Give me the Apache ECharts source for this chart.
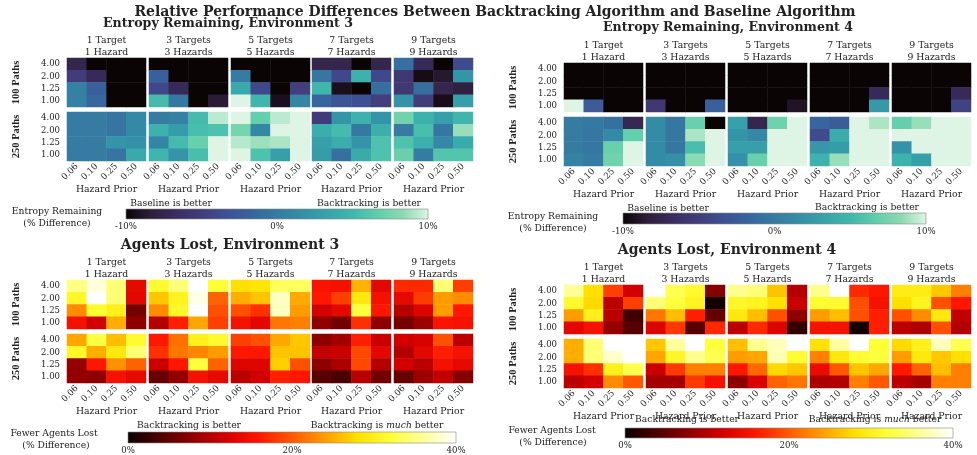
<!DOCTYPE html>
<html>
<head>
<meta charset="utf-8">
<script src="https://cdn.jsdelivr.net/npm/echarts@6/dist/echarts.min.js"></script>
<style>
  html, body { margin: 0; padding: 0; background: #fff; }
  #chart { width: 977px; height: 455px; }
</style>
</head>
<body>
<div id="chart"></div>
<script>
var hazardPriors = ['0.06', '0.10', '0.25', '0.50'];
var pathScales = ['1.00', '1.25', '2.00', '4.00'];
var groupNames = ['1 Target\n1 Hazard', '3 Targets\n3 Hazards', '5 Targets\n5 Hazards', '7 Targets\n7 Hazards', '9 Targets\n9 Hazards'];
var pathRows = ['100 Paths', '250 Paths'];

// each block: rows 4.00, 2.00, 1.25, 1.00 (top to bottom), cols 0.06 .. 0.50
var entropyEnv3Paths100 = [
    [[-7.5, -10, -10, -10], [-5, -7, -10, -10], [0.5, -2, -10, -10], [0.5, -1.5, -10, -10]],
    [[-10, -10, -10, -10], [-2, -10, -10, -10], [-4, -7, -10, -10], [5.3, -0.2, -10, -8.5]],
    [[-10, -10, -10, -10], [0, -10, -10, -10], [3.8, -4, -10, -4.8], [10, 4.8, -9.3, 0.8]],
    [[-7.5, -7.5, -10, -7.5], [-0.3, -4, 4.5, -4], [5, -9.3, -10, -1], [-1.7, -3, -3.3, -4.8]],
    [[-0.8, -7, -10, -3.8], [-5.5, -9.5, -8.7, 2.2], [-5.5, -1, -7.5, -8], [2, -5, -9.4, 3]]
];
var entropyEnv3Paths250 = [
    [[0, 0, -0.5, 1.2], [0, 0, -0.5, 1.2], [0, 0, 2.2, 1.8], [0, 0, -0.5, 3.8]],
    [[0, 0.5, 5.3, 9.3], [4.5, 2.8, 5.5, 5.8], [0.8, 5.3, 7, 10], [4.8, 2.2, 5.5, 10]],
    [[10, 6.8, 9.3, 10], [7.5, 1, 10, 10], [9.2, 8.7, 9, 10], [10, 5.8, 3, 10]],
    [[-5.2, 2.2, 4.5, 2.2], [4.2, 5.3, -0.2, 4.3], [3, 4.2, 2, 5.8], [2.8, -0.8, 4, 5.8]],
    [[7.3, 4.5, 3, 4.8], [0, 5.5, -0.3, 8.6], [5.8, 4.3, 1, 4], [7, 0, 6, 6]]
];
var entropyEnv4Paths100 = [
    [[-10, -10, -10, -10], [-10, -10, -10, -10], [-10, -10, -10, -10], [10, -2.5, -10, -10]],
    [[-10, -10, -10, -10], [-10, -10, -10, -10], [-10, -10, -10, -10], [-5.5, -10, -10, -2]],
    [[-10, -10, -10, -10], [-10, -10, -10, -10], [-10, -10, -10, -10], [-10, -10, -10, -9]],
    [[-10, -10, -10, -10], [-10, -10, -10, -10], [-10, -10, -10, -7], [-10, -10, -10, 2.5]],
    [[-10, -10, -10, -10], [-10, -10, -10, -10], [-10, -10, -10, -7], [-10, -10, -10, -4.5]]
];
var entropyEnv4Paths250 = [
    [[0, -0.2, -0.8, -7.2], [0, -0.3, 1.2, 6.8], [0, -0.3, 7, 10], [0.7, 0, 7.3, 10]],
    [[1.3, -0.3, 7, -10], [1.3, -0.3, 9, 10], [1.3, -0.3, 5.5, 10], [1.3, 1.7, 8.3, 10]],
    [[3.2, -7.5, 7.2, 10], [2.2, 1.2, 10, 10], [3, 3, 10, 10], [1.8, 7, 10, 10]],
    [[-1.7, -2.5, 10, 9], [-3.8, 4.2, 10, 10], [2.3, 2.8, 10, 10], [4.6, 8.6, 10, 10]],
    [[6.8, 8.6, 10, 10], [10, 10, 10, 10], [2, 10, 10, 10], [4.6, 3, 10, 10]]
];
var agentsEnv3Paths100 = [
    [[35, 38.5, 34.5, 13.6], [31, 40, 34.5, 13.3], [23, 31.7, 30, 6.4], [15, 11.9, 25, 7.8]],
    [[31.4, 34.5, 40, 32], [26.5, 30.4, 39, 20.5], [23, 31, 40, 19.4], [10, 16.5, 24.6, 18.4]],
    [[28, 28.5, 33.6, 33.6], [25, 26.3, 37.5, 24.8], [19.4, 17.5, 37.5, 24], [15.2, 13.3, 21.7, 22.2]],
    [[15.5, 15, 25.3, 13.5], [16, 18.4, 29, 15], [11.9, 13.5, 32.3, 15.8], [8, 6.2, 17.5, 7.8]],
    [[17, 17, 34.5, 18.4], [13.6, 18.2, 24, 23], [10.3, 12.8, 24, 16], [6.4, 8.7, 15.5, 15.2]]
];
var agentsEnv3Paths250 = [
    [[24.6, 32.5, 26, 31.5], [31, 25, 29, 34.5], [8.2, 15.8, 23.2, 20.5], [8.2, 7.8, 15.2, 13.6]],
    [[16, 21.3, 30, 31.4], [17.5, 21.7, 22.7, 24], [11.4, 15.8, 32.3, 20.5], [5.5, 8.2, 15, 13.6]],
    [[18.4, 19.4, 24.6, 26.5], [16, 15.8, 26.3, 26.3], [12.8, 12.8, 27, 19.4], [10.5, 11.9, 16.5, 15.8]],
    [[7.8, 9.2, 16.5, 11.4], [11, 11.4, 19, 13.3], [7.8, 9.6, 19, 10], [4.6, 3.7, 10.3, 6.2]],
    [[11.9, 12.4, 19.4, 10.5], [10, 13.3, 16.5, 15.2], [11.9, 10.5, 15, 13.6], [5.5, 8.7, 11, 7.3]]
];
var agentsEnv4Paths100 = [
    [[35.9, 28, 18.4, 11.9], [31.4, 27.6, 10.5, 18.4], [24, 30, 10.5, 3.2], [13.3, 15.2, 8.2, 4.6]],
    [[40, 33, 31.4, 7.3], [34.5, 32.3, 30.5, 0.5], [21.7, 26, 16.5, 5.3], [12.8, 17.9, 4.6, 17]],
    [[35.5, 34.5, 26.3, 10], [31, 30.4, 28.2, 11.4], [29, 26, 19.4, 8], [10.5, 17, 12.8, 2.5]],
    [[35.5, 40, 17, 15.8], [31.7, 31.4, 19.4, 15.2], [24, 26, 19.4, 16.5], [15.2, 15.2, 0.5, 16.5]],
    [[29.5, 29.5, 26.5, 22.2], [28, 30.5, 19.4, 16], [19.4, 23, 29, 11], [10.5, 9.6, 19.4, 10]]
];
var agentsEnv4Paths250 = [
    [[25, 34.5, 40, 40], [25, 34.5, 37.8, 40], [15.2, 17.5, 30, 33], [10.5, 11.9, 23, 19.9]],
    [[26.5, 36, 40, 32.3], [24.6, 31, 35.5, 33], [11.4, 17.9, 22.2, 22.2], [9.2, 9.2, 17.9, 15]],
    [[26, 35.5, 37.3, 40], [24, 24.6, 37, 31.7], [15.8, 20.8, 27.6, 26.5], [7.8, 12.4, 20.5, 21.7]],
    [[28.2, 36.2, 40, 32], [22.2, 29, 31.7, 32.3], [14, 19.9, 26.3, 24.6], [9.6, 10, 22.2, 19.9]],
    [[27.6, 30, 37.3, 33], [24, 29, 26.5, 28], [16, 20.5, 26, 22.2], [10.5, 9.2, 22.2, 22.2]]
];

var makoColors = ['#0B0405', '#2E1E3B', '#3A2D5F', '#413D7B', '#3E5094', '#37659E', '#357BA2',
    '#348FA7', '#36A3AA', '#40B7AD', '#60CEAC', '#8BDAB2', '#DEF5E5'];
var hotColors = ['#0B0000', '#4E0000', '#910000', '#D40000', '#FF1700', '#FF5A00', '#FF9D00',
    '#FFE000', '#FFFF36', '#FFFF9B', '#FFFFFF'];

var FONT = '"DejaVu Serif", serif';               // wide serif for horizontal text
var FONT_NARROW = '"Liberation Serif", serif';    // condensed look for rotated row labels
var TXT = '#222';

var panels = [
    { kind: 'entropy', rows: [entropyEnv3Paths100, entropyEnv3Paths250], left: [67, 149, 231, 312, 394], top: [58, 112] },
    { kind: 'entropy', rows: [entropyEnv4Paths100, entropyEnv4Paths250], left: [564, 646, 728, 810, 892], top: [63, 117] },
    { kind: 'agents', rows: [agentsEnv3Paths100, agentsEnv3Paths250], left: [67, 149, 231, 312, 394], top: [280, 334] },
    { kind: 'agents', rows: [agentsEnv4Paths100, agentsEnv4Paths250], left: [564, 646, 728, 810, 892], top: [285, 339] }
];

var grids = [], xAxes = [], yAxes = [], series = [], entropyIdx = [], agentsIdx = [];

panels.forEach(function (p) {
    p.rows.forEach(function (rowData, r) {
        rowData.forEach(function (block, g) {
            var idx = grids.length;
            grids.push({ left: p.left[g], top: p.top[r], width: 79, height: 49 });
            var xa = {
                type: 'category', gridIndex: idx, data: hazardPriors,
                axisLine: { show: false }, axisTick: { show: false }, splitLine: { show: false }
            };
            if (r === 0) {
                xa.position = 'top';
                xa.axisLabel = { show: false };
                xa.name = groupNames[g];
                xa.nameLocation = 'middle';
                xa.nameGap = -1;
                xa.nameTextStyle = { fontFamily: FONT, fontSize: 9.3, lineHeight: 12, color: TXT };
            } else {
                xa.position = 'bottom';
                xa.axisLabel = { interval: 0, rotate: 45, margin: 4, fontFamily: FONT, fontSize: 8.7, color: TXT };
                xa.name = 'Hazard Prior';
                xa.nameLocation = 'middle';
                xa.nameGap = 20;
                xa.nameTextStyle = { fontFamily: FONT, fontSize: 9.3, color: TXT };
            }
            xAxes.push(xa);
            var ya = {
                type: 'category', gridIndex: idx, data: pathScales,
                axisLine: { show: false }, axisTick: { show: false }, splitLine: { show: false },
                axisLabel: { show: g === 0, interval: 0, margin: 7, fontFamily: FONT, fontSize: 8.5, color: TXT }
            };
            if (g === 0) {
                ya.name = pathRows[r];
                ya.nameLocation = 'middle';
                ya.nameRotate = 90;
                ya.nameGap = 45;
                ya.nameTextStyle = { fontFamily: FONT_NARROW, fontSize: 10.5, fontWeight: 'bold', color: TXT };
            }
            yAxes.push(ya);
            var data = [];
            block.forEach(function (vals, i) {
                vals.forEach(function (v, j) {
                    data.push([j, 3 - i, v]);
                });
            });
            series.push({
                type: 'heatmap', xAxisIndex: idx, yAxisIndex: idx, data: data,
                emphasis: { disabled: true }, itemStyle: { borderWidth: 0 }
            });
            (p.kind === 'entropy' ? entropyIdx : agentsIdx).push(series.length - 1);
        });
    });
});

function gradient(colors) {
    return new echarts.graphic.LinearGradient(0, 0, 1, 0, colors.map(function (c, i) {
        return { offset: i / (colors.length - 1), color: c };
    }));
}

// colour bars
var bars = [
    { left: 126, top: 209, width: 302, height: 10, min: -10, max: 10, step: 10, colors: makoColors },
    { left: 623, top: 213, width: 303, height: 11, min: -10, max: 10, step: 10, colors: makoColors },
    { left: 128, top: 432, width: 328, height: 11, min: 0, max: 40, step: 20, colors: hotColors },
    { left: 625, top: 428, width: 328, height: 10, min: 0, max: 40, step: 20, colors: hotColors }
];
bars.forEach(function (b) {
    var idx = grids.length;
    grids.push({
        left: b.left, top: b.top, width: b.width, height: b.height, show: true,
        backgroundColor: gradient(b.colors), borderColor: '#888', borderWidth: 0.6
    });
    xAxes.push({
        type: 'value', gridIndex: idx, min: b.min, max: b.max, interval: b.step,
        axisLine: { show: false }, axisTick: { show: false }, splitLine: { show: false },
        axisLabel: { margin: 3, fontFamily: FONT, fontSize: 8.6, color: TXT, formatter: function (v) { return v + '%'; } }
    });
    yAxes.push({ type: 'value', gridIndex: idx, show: false, min: 0, max: 1 });
});

function txt(x, y, s, size, bold, extra) {
    var st = {
        text: s, x: x, y: y, fill: TXT, fontFamily: FONT, fontSize: size,
        fontWeight: bold ? 'bold' : 'normal',
        textAlign: 'center', textVerticalAlign: 'middle', align: 'center', verticalAlign: 'middle'
    };
    if (extra) st.rich = extra;
    return { type: 'text', silent: true, style: st };
}
var italicRich = { i: { fontStyle: 'italic', fontFamily: FONT, fontSize: 9.2, fill: TXT } };

var texts = [
    txt(495, 12, 'Relative Performance Differences Between Backtracking Algorithm and Baseline Algorithm', 14, true),
    txt(228, 24, 'Entropy Remaining, Environment 3', 12.6, true),
    txt(728, 28, 'Entropy Remaining, Environment 4', 12.6, true),
    txt(230, 245, 'Agents Lost, Environment 3', 14, true),
    txt(727, 250, 'Agents Lost, Environment 4', 14, true),

    txt(171, 204, 'Baseline is better', 9.2),
    txt(369, 204, 'Backtracking is better', 9.2),
    txt(57, 212, 'Entropy Remaining', 9.2),
    txt(57, 224, '(% Difference)', 9.2),

    txt(668, 209, 'Baseline is better', 9.2),
    txt(867, 208, 'Backtracking is better', 9.2),
    txt(553, 217, 'Entropy Remaining', 9.2),
    txt(553, 229, '(% Difference)', 9.2),

    txt(189, 426, 'Backtracking is better', 9.2),
    txt(377, 426, 'Backtracking is {i|much} better', 9.2, false, italicRich),
    txt(54, 434, 'Fewer Agents Lost', 9.2),
    txt(56, 446, '(% Difference)', 9.2),

    txt(687, 420, 'Backtracking is better', 9.2),
    txt(875, 420, 'Backtracking is {i|much} better', 9.2, false, italicRich),
    txt(552, 431, 'Fewer Agents Lost', 9.2),
    txt(553, 443, '(% Difference)', 9.2)
];

var myChart = echarts.init(document.getElementById('chart'), null, { renderer: 'canvas' });
var option = {
    animation: false,
    backgroundColor: '#fff',
    grid: grids,
    xAxis: xAxes,
    yAxis: yAxes,
    visualMap: [
        { show: false, type: 'continuous', min: -10, max: 10, seriesIndex: entropyIdx, inRange: { color: makoColors } },
        { show: false, type: 'continuous', min: 0, max: 40, seriesIndex: agentsIdx, inRange: { color: hotColors } }
    ],
    graphic: texts,
    series: series
};
myChart.setOption(option);
</script>
</body>
</html>
